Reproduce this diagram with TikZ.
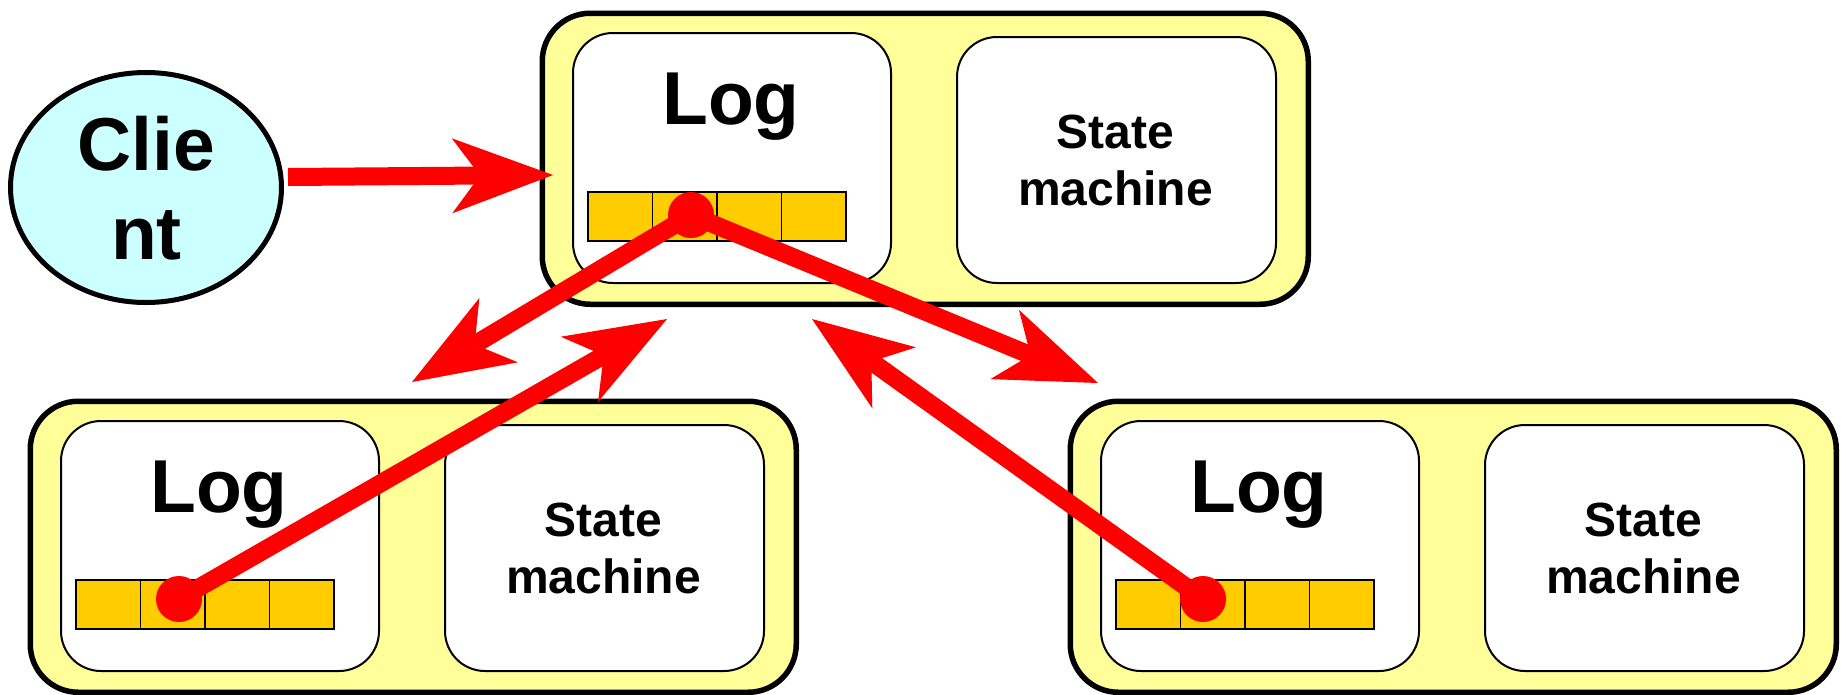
\documentclass[tikz,border=0pt]{standalone}
\usepackage{fontspec}
\setmainfont{Liberation Sans}
\usetikzlibrary{arrows.meta,shapes.geometric}

\definecolor{srvyellow}{HTML}{FFFF99}
\definecolor{clientcyan}{HTML}{CCFFFF}
\definecolor{entryorange}{HTML}{FFCC00}
\definecolor{msgred}{HTML}{FF0000}

\tikzset{
  server/.style={draw=black, line width=5.5pt, fill=srvyellow, rounded corners=48pt,
    inner sep=0pt, anchor=north west},
  pane/.style={draw=black, line width=2pt, fill=white, rounded corners=40pt,
    inner sep=0pt, anchor=north west},
  entry/.style={draw=black, line width=1.8pt, fill=entryorange, inner sep=0pt,
    minimum width=64.5pt, minimum height=49pt, anchor=north west},
  big/.style={font=\bfseries\fontsize{75}{89}\selectfont, inner sep=0pt, anchor=base},
  small/.style={font=\bfseries\fontsize{48}{57}\selectfont, inner sep=0pt, anchor=base},
  msg/.style={draw=msgred, line width=18pt,
    -{Stealth[length=101pt, width=75pt, inset=28pt, line width=0pt]}},
  dot/.style={circle, fill=msgred, minimum size=46pt, inner sep=0pt},
}

% One replica: outer box, log pane with four entries, state machine pane
\newcommand{\replica}[2]{%
  \begin{scope}[shift={#2}]
    \node[server, minimum width=766pt, minimum height=291pt] (#1) at (0,0) {};
    \node[pane, minimum width=318pt, minimum height=250pt] (#1log) at (32.5,21.5) {};
    \node[pane, minimum width=319pt, minimum height=246pt] (#1sm) at (416.5,25.5) {};
    \node[big] (#1logtxt) at (191.5,113.5) {Log};
    \node[small] (#1smtxtA) at (576,137.5) {State};
    \node[small] (#1smtxtB) at (576,194.5) {machine};
    \foreach \i in {0,1,2,3}
      \node[entry] (#1e\i) at ({47.5+64.5*\i},180.5) {};
  \end{scope}}

\begin{document}
\begin{tikzpicture}[x=1pt, y=-1pt]
  \useasboundingbox (0,0) rectangle (1841,694);

  % replicas
  \replica{lead}{(539.5,10.5)}
  \replica{left}{(27.5,398.5)}
  \replica{right}{(1067.5,398.5)}

  % client
  \node[draw=black, line width=5pt, fill=clientcyan, ellipse, inner sep=0pt,
        minimum width=271pt, minimum height=230pt] (client) at (146,187.5) {};
  \node[big] (clientA) at (146.5,170) {Clie};
  \node[big] (clientB) at (146.5,259) {nt};

  % log entries being replicated
  \node[dot] (leaddot) at (691,215) {};
  \node[dot] (leftdot) at (179,599) {};
  \node[dot] (rightdot) at (1203,599) {};

  \coordinate (reqtip) at (553,175);
  \coordinate (toleft) at (412,382);
  \coordinate (fromleft) at (667,319);
  \coordinate (toright) at (1098,383);
  \coordinate (fromright) at (812,319);

  \draw[msg] ([shift={(4pt,10.5pt)}]client.east) -- (reqtip);
  \draw[msg] (leaddot.center) -- (toleft);
  \draw[msg] (leftdot.center) -- (fromleft);
  \draw[msg] (leaddot.center) -- (toright);
  \draw[msg] (rightdot.center) -- (fromright);
\end{tikzpicture}
\end{document}
